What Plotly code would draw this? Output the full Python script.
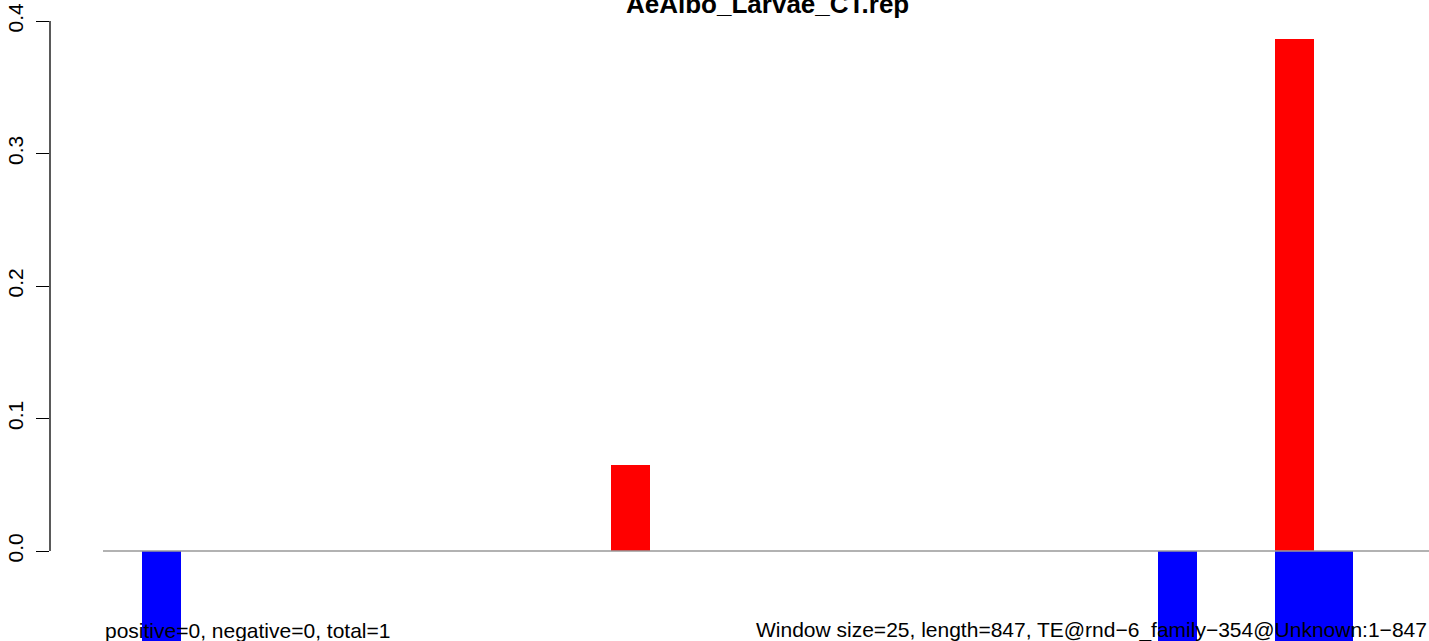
import plotly.graph_objects as go

# ---- data ----
title_text = "AeAlbo_Larvae_CT.rep"
n_windows = 34
window_index = list(range(n_windows))
positive_vals = [0.0] * n_windows
positive_vals[13] = 0.0649
positive_vals[30] = 0.3864
negative_vals = [0.0] * n_windows
negative_vals[1] = -0.10
negative_vals[27] = -0.10
negative_vals[30] = -0.10
negative_vals[31] = -0.10
y_ticks = [0.0, 0.1, 0.2, 0.3, 0.4]
y_tick_labels = ["0.0", "0.1", "0.2", "0.3", "0.4"]
left_note = "positive=0, negative=0, total=1"
right_note = "Window size=25, length=847, TE@rnd\u22126_family\u2212354@Unknown:1\u2212847"

FONT = "Liberation Sans, Arial, Helvetica, sans-serif"
W, H = 1429, 641
ML = 50
px_per_unit_x = 39.07
x0_px = 103
y0_px = 551
px_per_unit_y = 1325.0

xr = [-(x0_px - ML) / px_per_unit_x, (W - x0_px) / px_per_unit_x]
yr = [-(H - y0_px) / px_per_unit_y, y0_px / px_per_unit_y]

centers = [i + 0.5 for i in window_index]

fig = go.Figure()
fig.add_trace(go.Bar(x=centers, y=positive_vals, width=1.0, marker=dict(color="#FF0000", line=dict(width=0)),
                     showlegend=False, hoverinfo="skip"))
fig.add_trace(go.Bar(x=centers, y=negative_vals, width=1.0, marker=dict(color="#0000FF", line=dict(width=0)),
                     showlegend=False, hoverinfo="skip"))

# baseline
fig.add_shape(type="line", xref="x", yref="y", x0=0, x1=xr[1] + 1, y0=0, y1=0,
              line=dict(color="#999999", width=1.5), layer="above")
# y axis line between first and last tick
fig.add_shape(type="line", xref="paper", yref="y", x0=0, x1=0, y0=y_ticks[0], y1=y_ticks[-1],
              line=dict(color="black", width=1.3), layer="above")

fig.add_annotation(text="<b>" + title_text + "</b>", xref="paper", yref="paper",
                   x=(767 - ML) / (W - ML), y=1 - 4 / H, xanchor="center", yanchor="middle",
                   showarrow=False, font=dict(family=FONT, size=26, color="black"))
fig.add_annotation(text=left_note, xref="paper", yref="paper",
                   x=(x0_px - ML) / (W - ML), y=(H - 630) / H, xanchor="left", yanchor="middle",
                   showarrow=False, font=dict(family=FONT, size=21, color="black"))
fig.add_annotation(text=right_note, xref="paper", yref="paper",
                   x=1.0, y=(H - 630) / H, xanchor="right", yanchor="middle",
                   showarrow=False, font=dict(family=FONT, size=21, color="black"))

fig.update_layout(
    width=W, height=H,
    margin=dict(l=ML, r=0, t=0, b=0),
    paper_bgcolor="white", plot_bgcolor="white",
    barmode="overlay", bargap=0,
    font=dict(family=FONT, size=21, color="black"),
    xaxis=dict(range=xr, showticklabels=False, ticks="", showgrid=False, zeroline=False, showline=False),
    yaxis=dict(range=yr, tickvals=y_ticks, ticktext=y_tick_labels, tickangle=-90,
               ticks="outside", ticklen=13, tickwidth=1.3, tickcolor="black",
               ticklabelstandoff=5,
               showgrid=False, zeroline=False, showline=False,
               tickfont=dict(family=FONT, size=21, color="black")),
)

fig.write_html("out.html", config={"displayModeBar": False},
               post_script="document.body.style.margin='0';document.body.style.padding='0';"
                           "document.body.style.overflow='hidden';")
